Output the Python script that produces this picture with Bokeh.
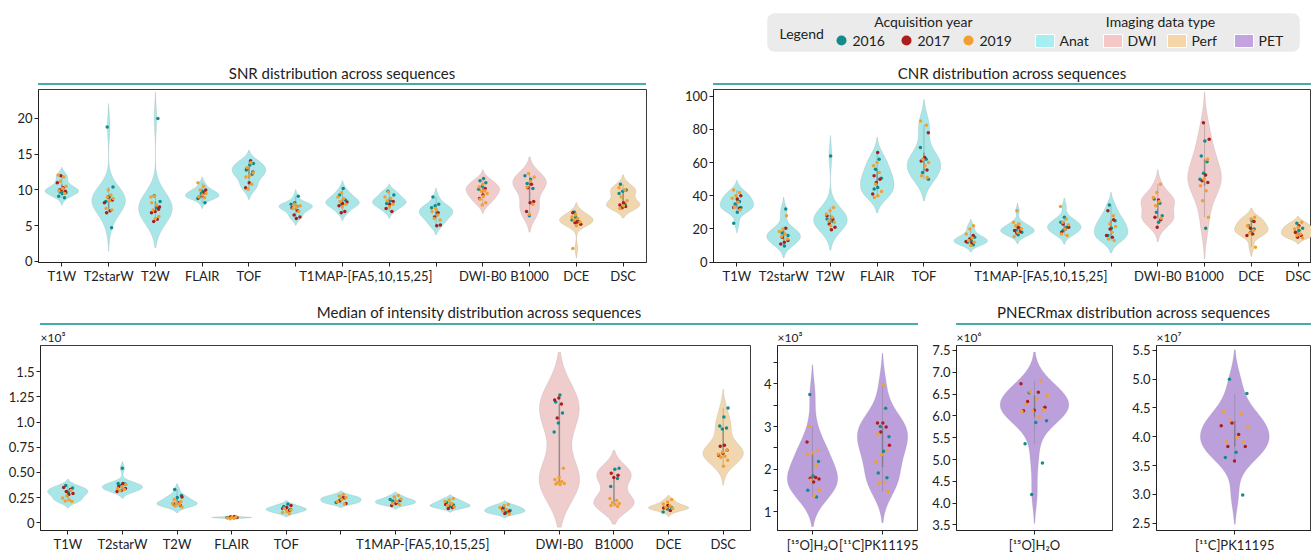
import numpy as np
from bokeh.plotting import figure
from bokeh.layouts import column, row, Spacer
from bokeh.models import Range1d, FixedTicker, Div, BoxAnnotation, LinearAxis
from bokeh.embed import file_html
from bokeh.resources import INLINE
from bokeh.core.properties import value

FONT = "Lato"

# ---------------- categories ----------------
sequences = ["T1W", "T2starW", "T2W", "FLAIR", "TOF", "T1MAP-FA5", "T1MAP-FA10",
             "T1MAP-FA15", "T1MAP-FA25", "DWI-B0", "B1000", "DCE", "DSC"]
seq_tick_labels = ["T1W", "T2starW", "T2W", "FLAIR", "TOF", "", "", "", "",
                   "DWI-B0", "B1000", "DCE", "DSC"]
t1map_label = "T1MAP-[FA5,10,15,25]"
seq_types = ["Anat"] * 9 + ["DWI"] * 2 + ["Perf"] * 2
pet_tracers = ["[¹⁵O]H₂O", "[¹¹C]PK11195"]
years = ["2016", "2017", "2019"]
year_colors = ["#118c8c", "#aa1e1e", "#f0a032"]
data_types = ["Anat", "DWI", "Perf", "PET"]
type_fill = {"Anat": "#a8e6e8", "DWI": "#f0cdcd", "Perf": "#f0d7af", "PET": "#bca0dc"}
type_swatch = ["#a6eef0", "#f5c8c8", "#f6d6a8", "#c3a3e0"]

# ---------------- SNR ----------------
snr_2016 = [[9.7, 9.6, 9.5, 9.1, 8.9, 9.8], [18.8, 10.4, 9.0, 8.4, 4.7], [20.0, 9.2, 8.4, 7.5],
            [9.8, 9.0, 8.2, 9.5, 8.8], [13.7, 13.5, 12.8, 12.2], [9.1, 8.2, 8.0, 7.7],
            [10.2, 9.3, 8.6, 8.0], [9.8, 9.3, 8.5, 8.1], [9.0, 8.0, 7.8, 7.5, 6.8],
            [11.6, 11.3, 11.0, 10.5, 10.1], [12.0, 11.5, 10.9, 10.2, 6.4], [6.2, 5.8, 5.6, 6.9],
            [10.8, 10.0, 9.8, 9.5, 8.0]]
snr_2017 = [[12.0, 11.0, 10.3, 10.0, 9.8, 10.1], [9.0, 8.2, 7.1, 6.8, 8.6], [7.3, 7.0, 6.8, 5.9, 5.6, 7.6],
            [10.0, 9.2, 8.9, 9.6], [14.1, 13.0, 12.5, 11.0, 10.3], [7.5, 7.1, 6.5, 6.2, 6.0],
            [8.1, 7.8, 7.0, 6.8, 8.3], [8.4, 8.0, 7.4, 7.0], [6.8, 6.2, 5.1, 5.0],
            [9.3, 8.8, 10.2], [10.8, 10.3, 8.4, 8.2, 7.0], [6.8, 5.6, 5.4, 5.2, 5.5],
            [8.2, 7.9, 7.7, 7.5]]
snr_2019 = [[12.1, 11.8, 11.2, 10.5, 10.2, 9.9, 9.5], [9.3, 9.0, 8.8, 8.5, 7.4, 7.2, 10.0],
            [9.1, 9.0, 7.9, 7.2, 6.3, 6.0, 8.2], [11.0, 10.5, 10.0, 9.5, 9.3, 9.0, 8.9],
            [13.8, 13.1, 12.4, 12.0, 11.8, 10.8, 10.1], [8.0, 7.8, 7.6, 7.4, 7.0, 7.9],
            [9.6, 9.0, 8.8, 8.4, 8.0, 7.6], [9.7, 9.0, 8.8, 8.5, 8.0, 7.6],
            [7.4, 7.0, 6.5, 6.0, 5.8, 7.2], [10.8, 10.4, 9.9, 9.8, 9.5, 9.1, 8.7, 8.2, 7.9],
            [12.3, 11.8, 11.2, 10.4, 8.0, 6.6], [6.5, 6.2, 6.0, 5.8, 5.5, 5.0, 1.8],
            [10.3, 10.0, 9.0, 8.5, 7.8, 7.4]]

# ---------------- CNR ----------------
cnr_2016 = [[35, 33, 30, 23.5, 36.5], [32, 17.5, 16, 9.7], [64, 26, 24.5], [62, 56, 50.5, 45, 44],
            [69, 62, 54, 50], [15, 13, 12, 10.5], [20.5, 19, 18, 16.5], [27, 24, 21, 19],
            [34.5, 25, 20.5, 16], [38, 35.5, 30, 28, 24], [73, 64, 60.5, 53.5, 50, 20.5],
            [25, 22, 20, 18], [23.5, 20.5, 19, 18]]
cnr_2017 = [[40, 38, 33, 32.5], [20.5, 15, 13, 12, 11], [28, 26, 23, 21, 19.5], [66, 52, 50, 48, 41],
            [78, 63, 61, 55.5], [16, 14, 12.5, 11.5], [21, 19, 18.5, 17.5], [23, 21, 20, 18],
            [31, 25.5, 20, 16, 15], [37.5, 27, 25.5, 21], [84, 74, 52.5, 49, 48],
            [24.5, 20.5, 16, 17], [22, 18, 16, 15]]
cnr_2019 = [[43.5, 42, 40, 38.5, 36, 33, 31.5], [28, 20, 18.5, 17, 15.5, 14], [33, 31, 29, 27, 25, 24, 22],
            [60, 58, 54, 47, 42.5, 40, 39], [85, 82.5, 62, 60, 58, 52, 51], [22, 20, 17, 14.5, 13, 12, 10],
            [31, 24, 23, 22, 20, 18, 15.5], [33.5, 26, 24, 22.5, 20, 17, 16], [28, 23, 21.5, 18, 14, 13],
            [47, 42, 39, 36.5, 34, 26.5], [62, 50, 46, 43, 37, 27], [27, 26, 22, 19, 17.5, 9],
            [24, 21, 20, 17, 16, 14.5]]

# ---------------- Median of intensity ----------------
med_2016 = [[370, 345, 300], [540, 390, 385, 370], [330, 270, 250], [55, 52, 48], [185, 160, 130],
            [245, 225, 200], [230, 200, 215], [200, 175, 160], [150, 120, 100],
            [1270, 1200, 1090, 990, 900], [540, 530, 360, 440], [150, 135, 105],
            [1140, 1050, 960, 940, 930]]
med_2017 = [[350, 330, 310, 290, 280], [390, 360, 340, 320, 310], [255, 200, 185, 170], [60, 56, 50],
            [170, 150, 140, 120], [250, 215, 190], [220, 190, 170], [180, 150, 140], [140, 110, 90],
            [1240, 1220, 1180, 1040], [490, 470, 450], [170, 145, 120], [770, 760, 720, 690, 670]]
med_2019 = [[320, 265, 245, 225, 215, 210], [380, 355, 340, 330, 320], [230, 210, 200, 190, 180, 165, 155],
            [55, 50, 46, 43, 40], [140, 125, 110, 100, 90], [280, 265, 250, 230, 210, 185],
            [270, 255, 235, 210, 190, 180], [240, 225, 210, 190, 170, 155], [180, 170, 150, 130, 115, 85],
            [540, 450, 430, 410, 400, 390, 380, 385], [240, 220, 200, 190, 180, 170, 160],
            [230, 205, 185, 165, 150, 140], [720, 700, 680, 660, 650, 620, 560]]

pet_med_2016 = [[3750, 2180, 1840, 1510, 1350], [3430, 3000, 2760, 2420, 1910, 1800]]
pet_med_2017 = [[2640, 1810, 1790, 1770, 1700], [3080, 3080, 2990, 2870, 2560]]
pet_med_2019 = [[3000, 2440, 2380, 2360, 2090, 1750, 1520, 1380],
                [3980, 2830, 2440, 2340, 2180, 1690, 1670, 1480]]

# ---------------- PNECRmax ----------------
pnecr_h2o_2016 = [6.53e6, 5.89e6, 5.85e6, 5.36e6, 4.92e6, 4.20e6]
pnecr_h2o_2017 = [6.74e6, 6.54e6, 6.33e6, 6.20e6, 6.13e6, 6.12e6]
pnecr_h2o_2019 = [6.80e6, 6.55e6, 6.47e6, 6.39e6, 6.27e6, 6.14e6, 6.12e6, 6.10e6, 5.98e6]
pnecr_pk_2016 = [5.0e7, 4.75e7, 3.73e7, 3.64e7, 2.99e7]
pnecr_pk_2017 = [4.24e7, 4.19e7, 4.04e7, 3.83e7, 3.83e7, 3.58e7]
pnecr_pk_2019 = [4.44e7, 4.40e7, 4.29e7, 4.17e7, 3.99e7, 3.92e7, 3.91e7]

TEAL_LINE = "#45abab"
TXT = "#222222"


def style_axis(ax):
    ax.major_label_text_font = FONT
    ax.major_label_text_font_size = "13px"
    ax.major_label_text_color = TXT
    ax.axis_line_color = "#222222"
    ax.major_tick_line_color = "#222222"
    ax.major_tick_in = 0
    ax.major_tick_out = 4
    ax.minor_tick_line_color = None
    ax.major_label_standoff = 2


def make_fig(width, height, xr, yr, mbl, mbr, mbt, mbb, offset_text=None):
    kw = {}
    if offset_text:
        kw["title"] = offset_text
    p = figure(width=width, height=height, x_range=xr, y_range=yr, output_backend="svg",
               toolbar_location=None, min_border_left=mbl, min_border_right=mbr,
               min_border_top=mbt, min_border_bottom=mbb, **kw)
    p.xgrid.visible = False
    p.ygrid.visible = False
    p.outline_line_color = "#3c3c3c"
    p.outline_line_width = 1
    p.background_fill_color = "white"
    p.border_fill_color = "white"
    for ax in list(p.xaxis) + list(p.yaxis):
        style_axis(ax)
    if offset_text:
        p.title.text_font = FONT
        p.title.text_font_size = "12px"
        p.title.text_font_style = "normal"
        p.title.text_color = TXT
        p.title.align = "left"
        p.title.standoff = 2
    return p


def jitter_offsets(n, start, amp):
    return [amp * (2.0 * (((start + k) * 0.6180339887 + 0.31) % 1.0) - 1.0) for k in range(n)]


def add_violins(p, per_year, positions, fills, hw, jit):
    xs, ys, fc = [], [], []
    wx, wy0, wy1, bx, by0, by1 = [], [], [], [], [], []
    for i, pos in enumerate(positions):
        vals = np.array([v for g in per_year for v in g[i]], dtype=float)
        n = len(vals)
        bw = vals.std(ddof=1) * n ** (-0.2)
        grid = np.linspace(vals.min() - 2 * bw, vals.max() + 2 * bw, 160)
        dens = np.exp(-0.5 * ((grid[:, None] - vals[None, :]) / bw) ** 2).sum(axis=1)
        w = dens / dens.max() * hw
        xs.append(np.concatenate([pos - w, (pos + w)[::-1]]).tolist())
        ys.append(np.concatenate([grid, grid[::-1]]).tolist())
        fc.append(fills[i])
        q1, q3 = np.percentile(vals, [25, 75])
        iqr = q3 - q1
        lo = vals[vals >= q1 - 1.5 * iqr].min()
        hi = vals[vals <= q3 + 1.5 * iqr].max()
        wx.append(pos); wy0.append(lo); wy1.append(hi)
        bx.append(pos); by0.append(q1); by1.append(q3)
    p.patches(xs, ys, fill_color=fc, fill_alpha=1.0, line_color="#9a9a9a", line_alpha=0.35,
              line_width=0.6)
    p.segment(wx, wy0, wx, wy1, line_color="#6f6f6f", line_alpha=0.45, line_width=0.8)
    p.segment(bx, by0, bx, by1, line_color="#6f6f6f", line_alpha=0.55, line_width=1.6)
    counter = 0
    for k, g in enumerate(per_year):
        px, py = [], []
        for i, pos in enumerate(positions):
            offs = jitter_offsets(len(g[i]), counter + 7 * i, jit)
            counter += len(g[i])
            px += [pos + o for o in offs]
            py += list(g[i])
        p.scatter(px, py, size=3.5, fill_color=year_colors[k], line_color=None)


def seq_axis(p, yticks, yoverrides):
    idx = list(range(len(sequences)))
    # axis 1: tick marks only
    p.xaxis.ticker = FixedTicker(ticks=idx)
    p.xaxis.major_label_overrides = {i: "" for i in idx}
    p.xaxis.major_label_text_font_size = "1px"
    p.xaxis.major_label_standoff = 0
    # axis 2: labels only (T1MAP group label centred under its four violins)
    t1_idx = [i for i, s in enumerate(sequences) if s.startswith("T1MAP")]
    t1_mid = float(np.mean(t1_idx))
    lab_ticks = [i for i in idx if seq_tick_labels[i]] + [t1_mid]
    overrides = {i: seq_tick_labels[i] for i in idx if seq_tick_labels[i]}
    overrides[t1_mid] = t1map_label
    ax2 = LinearAxis(ticker=FixedTicker(ticks=sorted(lab_ticks)), major_label_overrides=overrides)
    style_axis(ax2)
    ax2.major_tick_out = 0
    ax2.axis_line_color = None
    ax2.major_tick_line_color = None
    ax2.major_label_standoff = 1
    p.add_layout(ax2, "below")
    p.yaxis.ticker = FixedTicker(ticks=yticks)
    if yoverrides:
        p.yaxis.major_label_overrides = yoverrides


seq_fills = [type_fill[t] for t in seq_types]
seq_pos = list(range(len(sequences)))
SP = 12.5 - (1321 - 1311) / (608 / 13.0)   # CNR panel is cut at the right page edge

# ---------- SNR ----------
p_snr = make_fig(656, 204, Range1d(-0.5, 12.5), Range1d(-0.15, 24.05), 38, 10, 3, 28)
add_violins(p_snr, [snr_2016, snr_2017, snr_2019], seq_pos, seq_fills, 0.36, 0.1)
seq_axis(p_snr, [0, 5, 10, 15, 20], None)

# ---------- CNR ----------
p_cnr = make_fig(655, 204, Range1d(-0.5, SP), Range1d(-0.2, 104), 57, 0, 3, 28)
add_violins(p_cnr, [cnr_2016, cnr_2017, cnr_2019], seq_pos, seq_fills, 0.36, 0.1)
seq_axis(p_cnr, [0, 20, 40, 60, 80, 100], None)

# ---------- Median ----------
p_med = make_fig(760, 229, Range1d(-0.5, 12.5), Range1d(-78, 1761), 40, 10, 18, 23, "×10³")
add_violins(p_med, [med_2016, med_2017, med_2019], seq_pos, seq_fills, 0.37, 0.1)
seq_axis(p_med, [0, 250, 500, 750, 1000, 1250, 1500],
         {0: "0", 250: "0.25", 500: "0.50", 750: "0.75", 1000: "1.0", 1250: "1.25", 1500: "1.5"})

# ---------- PET median ----------
p_pet = make_fig(158, 229, Range1d(-0.5, 1.5), Range1d(567, 4896), 16, 1, 18, 23, "×10³")
add_violins(p_pet, [pet_med_2016, pet_med_2017, pet_med_2019], [0, 1], [type_fill["PET"]] * 2, 0.36, 0.1)
p_pet.xaxis.ticker = FixedTicker(ticks=[0, 1])
p_pet.xaxis.major_label_overrides = {0: pet_tracers[0], 1: pet_tracers[1]}
pet_ticks = [1000, 1500, 2000, 2500, 3000, 3500, 4000, 4500]
p_pet.yaxis.ticker = FixedTicker(ticks=pet_ticks)
p_pet.yaxis.major_label_overrides = {t: (str(t // 1000) if t % 1000 == 0 else "") for t in pet_ticks}

# ---------- PNECR H2O ----------
p_h2o = make_fig(202, 229, Range1d(-0.5, 0.5), Range1d(3.373e6, 7.614e6), 38, 8, 18, 23, "×10⁶")
add_violins(p_h2o, [[pnecr_h2o_2016], [pnecr_h2o_2017], [pnecr_h2o_2019]], [0], [type_fill["PET"]], 0.22, 0.09)
p_h2o.xaxis.ticker = FixedTicker(ticks=[0])
p_h2o.xaxis.major_label_overrides = {0: pet_tracers[0]}
h_ticks = [3500000 + 500000 * k for k in range(9)]
p_h2o.yaxis.ticker = FixedTicker(ticks=h_ticks)
p_h2o.yaxis.major_label_overrides = {t: "%.1f" % (t / 1e6) for t in h_ticks}

# ---------- PNECR PK ----------
p_pk = make_fig(191, 229, Range1d(-0.5, 0.49), Range1d(2.371e7, 5.586e7), 36, 0, 18, 23, "×10⁷")
add_violins(p_pk, [[pnecr_pk_2016], [pnecr_pk_2017], [pnecr_pk_2019]], [0], [type_fill["PET"]], 0.22, 0.09)
p_pk.xaxis.ticker = FixedTicker(ticks=[0])
p_pk.xaxis.major_label_overrides = {0: pet_tracers[1]}
k_ticks = [25000000 + 5000000 * k for k in range(7)]
p_pk.yaxis.ticker = FixedTicker(ticks=k_ticks)
p_pk.yaxis.major_label_overrides = {t: "%.1f" % (t / 1e7) for t in k_ticks}


# ---------- titles with teal rules ----------
def title_div(text, width, height, text_top, line_top):
    html = ('<div style="position:relative;width:%dpx;height:%dpx;font-family:Lato;'
            'font-size:15px;color:#222;">'
            '<div style="position:absolute;left:0;right:0;top:%dpx;text-align:center;'
            'line-height:18px;white-space:nowrap;">%s</div>'
            '<div style="position:absolute;left:0;right:0;top:%dpx;height:2px;background:%s;"></div>'
            '</div>') % (width, height, text_top, text, line_top, TEAL_LINE)
    return Div(text=html, width=width, height=height, margin=(0, 0, 0, 0),
               styles={"padding": "0", "margin": "0"})


row2_titles = row(Spacer(width=38, height=34),
                  title_div("SNR distribution across sequences", 608, 34, 12, 31),
                  Spacer(width=67, height=34),
                  title_div("CNR distribution across sequences", 598, 34, 12, 31))
row3_titles = row(Spacer(width=40, height=36),
                  title_div("Median of intensity distribution across sequences", 878, 36, 13, 33),
                  Spacer(width=38, height=36),
                  title_div("PNECRmax distribution across sequences", 355, 36, 13, 33))

# ---------- legend ----------
leg = figure(width=1311, height=52, x_range=Range1d(0, 1311), y_range=Range1d(52, 0),
             output_backend="svg", toolbar_location=None, min_border=0)
leg.axis.visible = False
leg.xgrid.visible = False
leg.ygrid.visible = False
leg.outline_line_color = None
leg.add_layout(BoxAnnotation(left=767, right=1299, top=13, bottom=51, fill_color="#ebebeb",
                             fill_alpha=1.0, line_color="#e4e4e4", border_radius=7,
                             level="underlay"))
leg.text([779], [33], text=["Legend"], text_font=value(FONT), text_font_size="14px",
         text_baseline="middle", text_color=TXT)
leg.text([923, 1160], [21, 21], text=["Acquisition year", "Imaging data type"], text_font=value(FONT),
         text_font_size="14px", text_baseline="middle", text_align="center", text_color=TXT)
yr_dot_x = [841, 906, 968]
leg.scatter(yr_dot_x, [40] * 3, size=10, fill_color=year_colors, line_color=None)
leg.text([x + 11 for x in yr_dot_x], [40] * 3, text=years, text_font=value(FONT),
         text_font_size="14px", text_baseline="middle", text_color=TXT)
sw_x = [1035, 1103, 1167, 1234]
leg.quad(left=sw_x, right=[x + 19 for x in sw_x], top=[34] * 4, bottom=[47] * 4,
         fill_color=type_swatch, line_color="white", line_width=1)
leg.text([x + 24 for x in sw_x], [40] * 4, text=data_types, text_font=value(FONT),
         text_font_size="14px", text_baseline="middle", text_color=TXT)

layout = column(leg, row2_titles, row(p_snr, p_cnr), row3_titles, row(p_med, p_pet, p_h2o, p_pk))

open("out.html", "w").write(file_html(layout, INLINE))
